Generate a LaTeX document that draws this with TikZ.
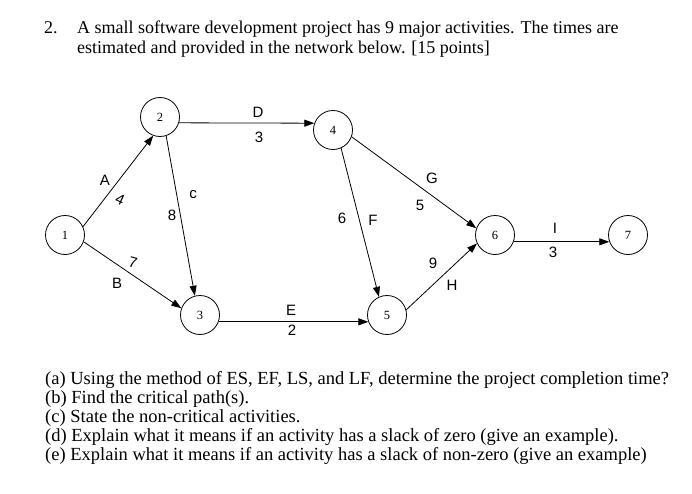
\documentclass[tikz,border=0pt]{standalone}
\usepackage{fontspec}
\setmainfont{Liberation Serif}
\newfontfamily\handfont{Liberation Sans}
\usetikzlibrary{arrows.meta}
\begin{document}
\begin{tikzpicture}[x=1pt,y=-1pt,
  ev/.style={circle,draw,line width=0.8pt,minimum size=39pt,inner sep=0pt,font=\fontsize{12.5}{12.5}\selectfont},
  arr/.style={line width=0.8pt,-{Triangle[length=10pt,width=7pt]}},
  hw/.style={inner sep=0pt,font=\handfont\fontsize{15}{15}\selectfont},
  head/.style={anchor=base west,inner sep=0pt,font=\fontsize{18}{18}\selectfont},
  qline/.style={anchor=base west,inner sep=0pt,font=\fontsize{18.5}{18.5}\selectfont}]
\useasboundingbox (0,0) rectangle (692,494);
% header
\node[head] (num) at (44,34) {2.};
\node[head] (h1) at (77,34) {A small software development project has 9 major activities. The times\ are};
\node[head] (h2) at (77,54) {estimated and provided in the network below. [15 points]};
% events
\node[ev] (n1) at (65,235) {1};
\node[ev] (n2) at (160,117) {2};
\node[ev] (n3) at (200,315) {3};
\node[ev] (n4) at (333,130) {4};
\node[ev] (n5) at (387,315) {5};
\node[ev] (n6) at (495,235) {6};
\node[ev] (n7) at (628,235) {7};
% activities
\draw[arr] (n1.25) -- (n2.250);
\draw[arr] (n1.-20) -- (n3.160);
\draw[arr] (n2.-72) -- (n3.105);
\draw[arr] (n2.-17) -- (n4.160);
\draw[arr] (n3.-20) -- (n5.200);
\draw[arr] (n4.-66) -- (n5.114);
\draw[arr] (n4.-20) -- (n6.160);
\draw[arr] (n5.15) -- (n6.205);
\draw[arr] (n6.-20) -- (n7.200);
% labels
\node[hw] (lA) at (105,180) {A};
\node[hw,rotate=-25] (tA) at (120,200) {4};
\node[hw] (lB) at (117,283) {B};
\node[hw,rotate=-15] (tB) at (133,263) {7};
\node[hw] (lC) at (193,195) {c};
\node[hw] (tC) at (172,215) {8};
\node[hw] (lD) at (258,112) {D};
\node[hw] (tD) at (259,137) {3};
\node[hw] (lE) at (291,310) {E};
\node[hw] (tE) at (292,330) {2};
\node[hw] (lF) at (373,220) {F};
\node[hw] (tF) at (342,218) {6};
\node[hw] (lG) at (432,178) {G};
\node[hw] (tG) at (420,205) {5};
\node[hw] (lH) at (452,285) {H};
\node[hw] (tH) at (433,263) {9};
\node[hw] (lI) at (555,228) {I};
\node[hw] (tI) at (553,252) {3};
% questions
\node[qline] (qa) at (45,384) {(a) Using the method of ES, EF, LS, and LF, determine the project completion time?};
\node[qline] (qb) at (45,403) {(b) Find the critical path(s).};
\node[qline] (qc) at (45,422) {(c) State the non-critical activities.};
\node[qline] (qd) at (45,441) {(d) Explain what it means if an activity has a slack of zero (give an example).};
\node[qline] (qe) at (45,460) {(e) Explain what it means if an activity has a slack of non-zero (give an example)};
\end{tikzpicture}
\end{document}
